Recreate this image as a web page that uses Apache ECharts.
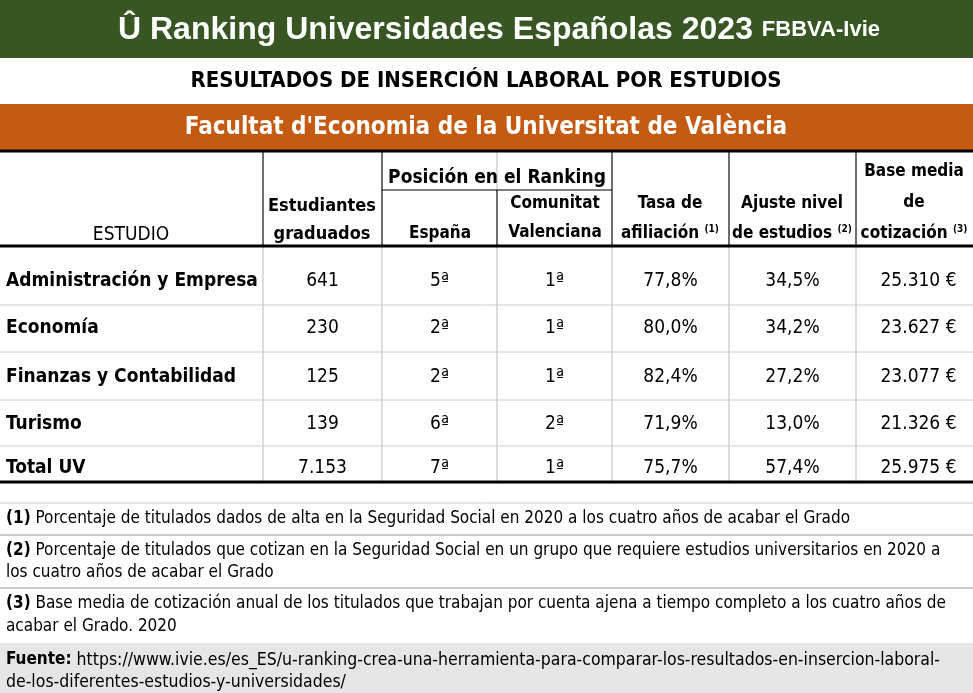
<!DOCTYPE html>
<html><head><meta charset="utf-8">
<script src="https://cdn.jsdelivr.net/npm/echarts@6/dist/echarts.min.js"></script>
<style>html,body{margin:0;padding:0;background:#fff}#c{width:973px;height:693px}</style>
</head><body><div id="c"></div>
<script>
var estudios=['Administración y Empresa','Economía','Finanzas y Contabilidad','Turismo','Total UV'];
var graduados=['641','230','125','139','7.153'];
var posEspana=['5ª','2ª','2ª','6ª','7ª'];
var posCV=['1ª','1ª','1ª','2ª','1ª'];
var tasaAfil=['77,8%','80,0%','82,4%','71,9%','75,7%'];
var ajuste=['34,5%','34,2%','27,2%','13,0%','57,4%'];
var baseMedia=['25.310 €','23.627 €','23.077 €','21.326 €','25.975 €'];
var notas=[
 ['(1)',' Porcentaje de titulados dados de alta en la Seguridad Social en 2020 a los cuatro años de acabar el Grado'],
 ['(2)',' Porcentaje de titulados que cotizan en la Seguridad Social en un grupo que requiere estudios universitarios en 2020 a','los cuatro años de acabar el Grado'],
 ['(3)',' Base media de cotización anual de los titulados que trabajan por cuenta ajena a tiempo completo a los cuatro años de','acabar el Grado. 2020']
];
var fuente=['https://www.ivie.es/es_ES/u-ranking-crea-una-herramienta-para-comparar-los-resultados-en-insercion-laboral-','de-los-diferentes-estudios-y-universidades/'];

var F='"Liberation Sans Narrow","DejaVu Sans Condensed","Open Sans",sans-serif';
var cols=[0,263,382,497,612,729,856,973];
var rowY=[281,328,377,424,468];
var g=[];
function rect(x,y,w,h,c){g.push({type:'rect',shape:{x:x,y:y,width:w,height:h},style:{fill:c},silent:true});}
function line(x1,y1,x2,y2,c,w){g.push({type:'line',shape:{x1:x1,y1:y1,x2:x2,y2:y2},style:{stroke:c,lineWidth:w},silent:true});}
function txt(x,y,s,o){o=o||{};g.push({type:'text',x:x,y:y,style:{text:s,fill:o.c||'#000',font:(o.b?'bold ':'')+(o.sz||18)+'px '+(o.f||F),align:o.a||'center',verticalAlign:'middle'},silent:true});}

rect(0,0,973,58,'#375623');
g.push({type:'text',x:499,y:30,style:{rich:{a:{fill:'#fff',font:'bold 32px "Liberation Sans",Arial'},b:{fill:'#fff',font:'bold 22px "Liberation Sans",Arial'}},text:'{a|Û Ranking Universidades Españolas 2023 }{b|FBBVA-Ivie}',align:'center',verticalAlign:'middle'},silent:true});
txt(486,81,'RESULTADOS DE INSERCIÓN LABORAL POR ESTUDIOS',{b:1,sz:22});
rect(0,104,973,46,'#c55a11');
txt(486,128,"Facultat d'Economia de la Universitat de València",{b:1,sz:24,c:'#fff'});

// grid lines
for(var i=1;i<cols.length-1;i++) line(cols[i],152,cols[i],482,'#bbb',1);
[263,382,612,729,856].forEach(function(x){line(x,152,x,246,'#000',1);});
line(497,190,497,246,'#000',1);
line(382,190,612,190,'#000',1);
[305,352,400,446].forEach(function(y){line(0,y,973,y,'#ccc',1);});
line(0,151,973,151,'#000',3);
line(0,246,973,246,'#000',3);
line(0,482,973,482,'#000',3);

// header
function sup(x,y,a,s){g.push({type:'text',x:x,y:y,style:{rich:{a:{font:'bold 17px '+F},s:{font:'bold 10px '+F,padding:[0,0,10,0]}},text:'{a|'+a+' }{s|'+s+'}',align:'center',verticalAlign:'middle'}});}
txt(131,235,'ESTUDIO',{sz:19});
txt(322,206,'Estudiantes',{b:1,sz:18});txt(322,234,'graduados',{b:1,sz:18});
txt(497,178,'Posición en el Ranking',{b:1,sz:19});
txt(440,234,'España',{b:1,sz:17});
txt(555,204,'Comunitat',{b:1,sz:17});txt(555,233,'Valenciana',{b:1,sz:17});
txt(670,204,'Tasa de',{b:1,sz:17});
sup(670,234,'afiliación','(1)');
txt(792,204,'Ajuste nivel',{b:1,sz:17});
sup(792,234,'de estudios','(2)');
txt(914,172,'Base media',{b:1,sz:17});txt(914,203,'de',{b:1,sz:17});
sup(914,234,'cotización','(3)');

// body
var colsData=[graduados,posEspana,posCV,tasaAfil,ajuste,baseMedia];
estudios.forEach(function(e,r){
  txt(6,rowY[r],e,{b:1,sz:19,a:'left'});
  colsData.forEach(function(arr,c){
    txt((cols[c+1]+cols[c+2])/2+(c==5?4:0),rowY[r],arr[r],{sz:19});
  });
});

// notes
line(0,503,973,503,'#ccc',1);line(0,535,973,535,'#ccc',2);line(0,588,973,588,'#ccc',2);
var nY=[[519],[551,573],[604,627]];
notas.forEach(function(n,i){
  g.push({type:'text',x:6,y:nY[i][0],style:{rich:{a:{font:'bold 17px '+F},b:{font:'17px '+F}},text:'{a|'+n[0]+'}{b|'+n[1]+'}',align:'left',verticalAlign:'middle'}});
  if(n[2]) txt(6,nY[i][1],n[2],{sz:17,a:'left'});
});
rect(0,643,973,50,'#e7e6e6');
g.push({type:'text',x:6,y:660,style:{rich:{a:{font:'bold 17px '+F},b:{font:'17.5px '+F}},text:'{a|Fuente:}{b| '+fuente[0]+'}',align:'left',verticalAlign:'middle'}});
txt(6,682,fuente[1],{sz:17.5,a:'left'});

var chart=echarts.init(document.getElementById('c'));
chart.setOption({animation:false,graphic:{elements:g}});
</script></body></html>
